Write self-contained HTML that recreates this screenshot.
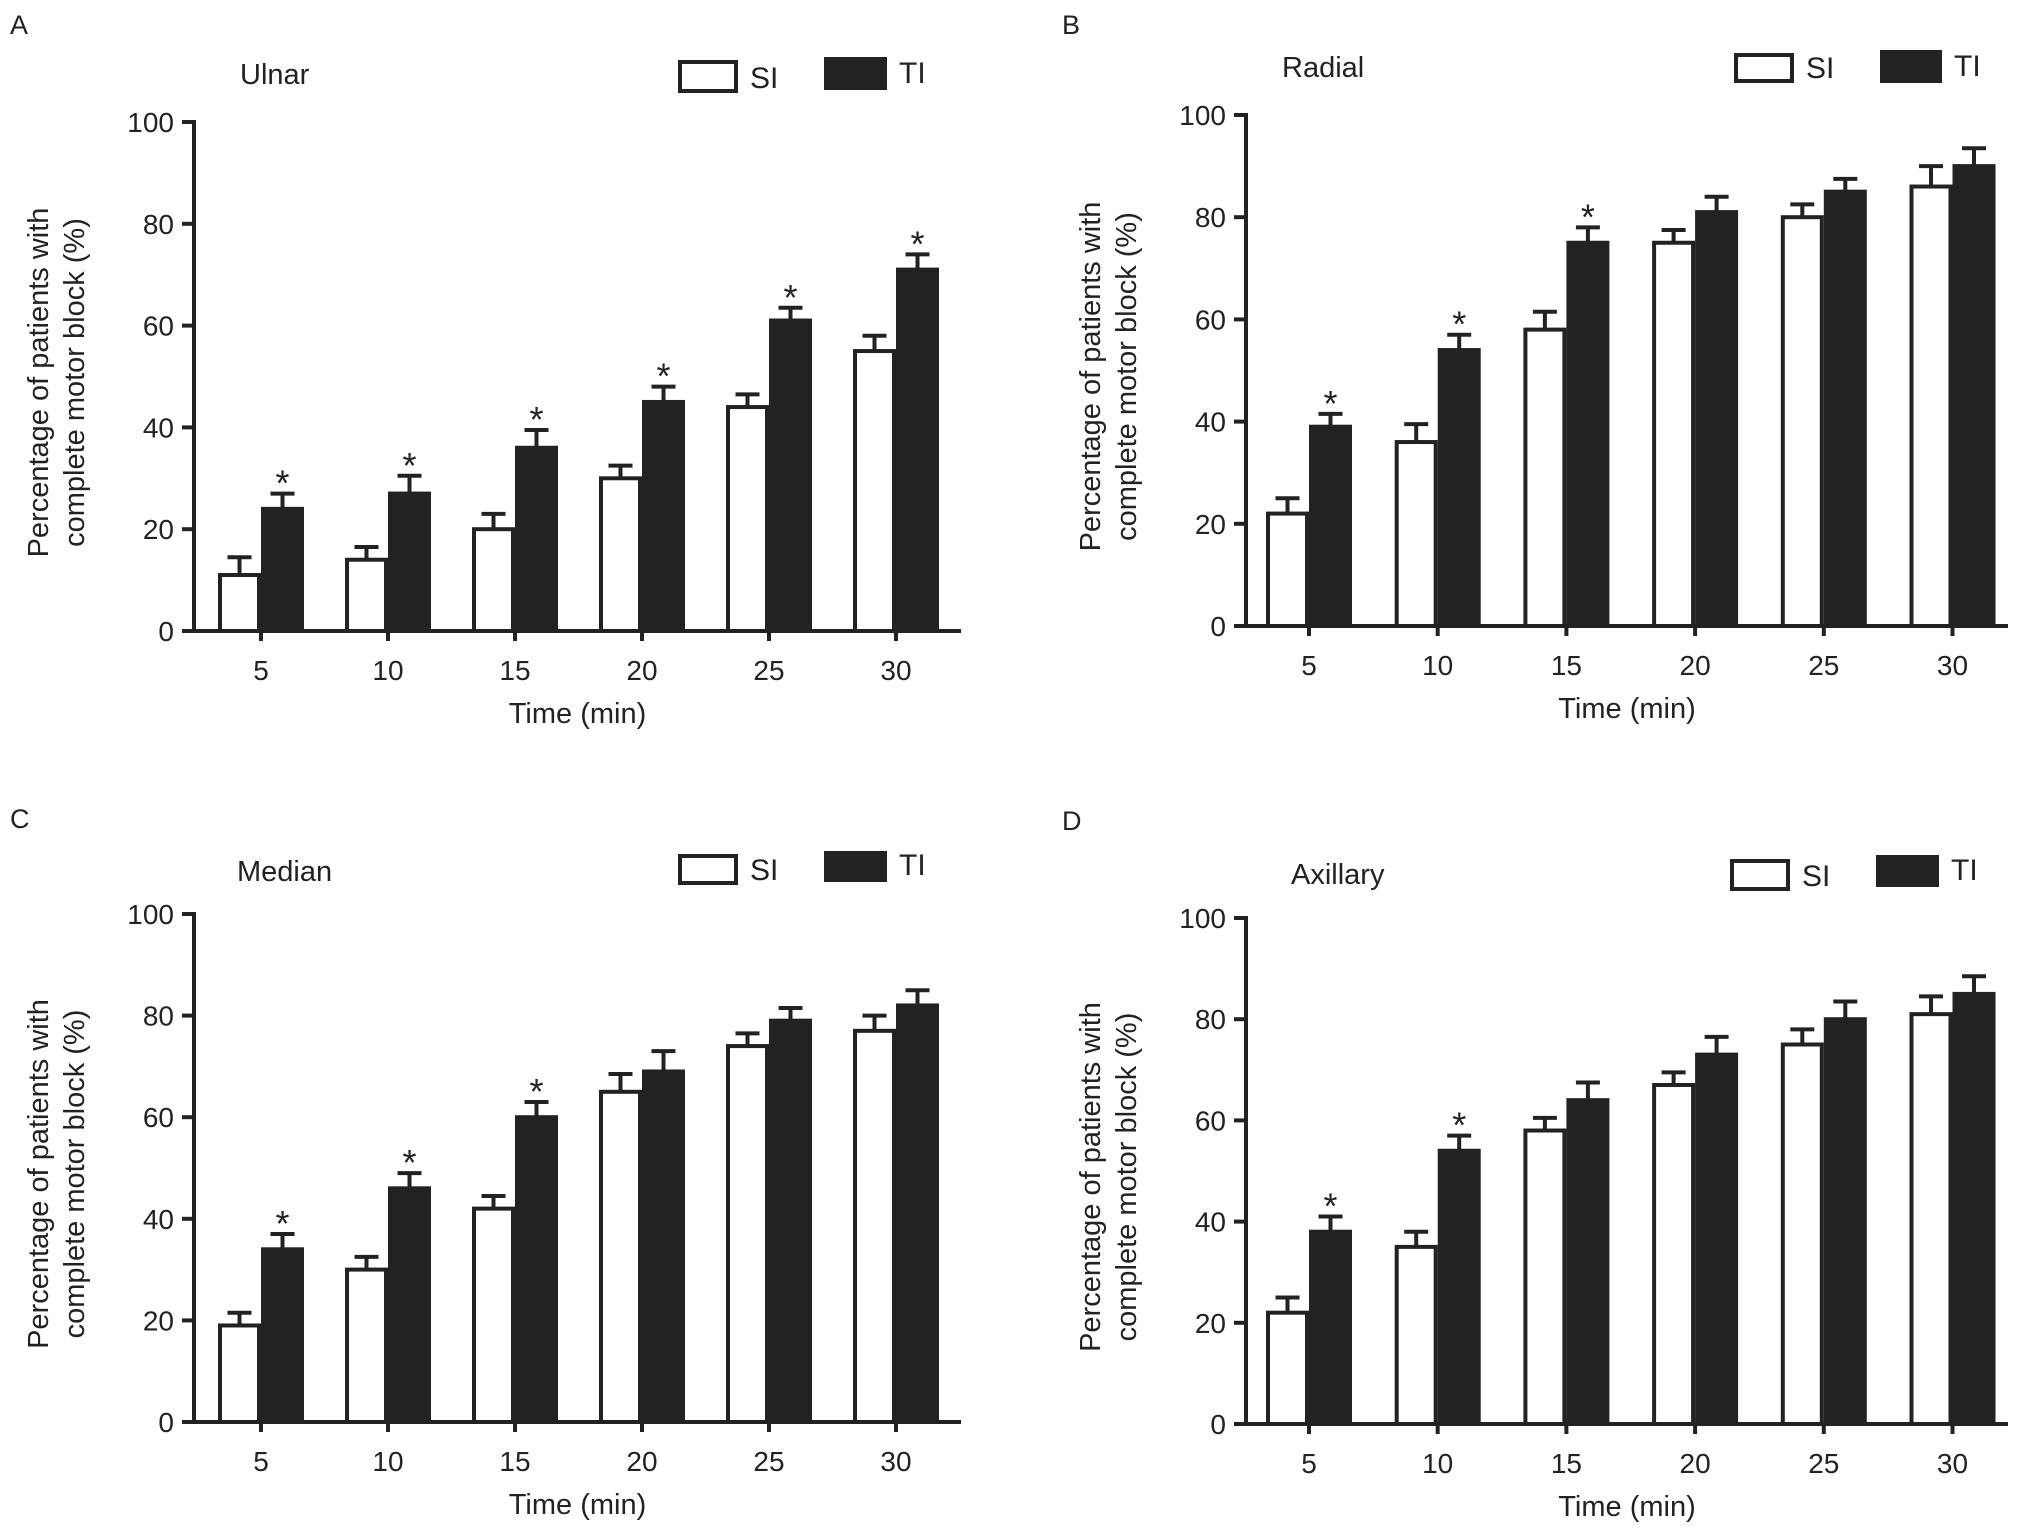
<!DOCTYPE html>
<html><head><meta charset="utf-8"><style>
html,body{margin:0;padding:0;background:#fff}
svg{display:block;font-family:"Liberation Sans",Arial,sans-serif}
</style></head><body>
<svg id="fig" width="2031" height="1538" viewBox="0 0 2031 1538" xmlns="http://www.w3.org/2000/svg"></svg>
<script>
const categories = ["5","10","15","20","25","30"];
const yTicks = [0,20,40,60,80,100];
const panelLetters = ["A","B","C","D"];
const panelTitles = ["Ulnar","Radial","Median","Axillary"];
const siA = [11,14,20,30,44,55];
const siErrA = [3.5,2.5,3,2.5,2.5,3];
const tiA = [24,27,36,45,61,71];
const tiErrA = [3,3.5,3.5,3,2.5,3];
const starsA = [1,1,1,1,1,1];
const siB = [22,36,58,75,80,86];
const siErrB = [3,3.5,3.5,2.5,2.5,4];
const tiB = [39,54,75,81,85,90];
const tiErrB = [2.5,3,3,3,2.5,3.5];
const starsB = [1,1,1,0,0,0];
const siC = [19,30,42,65,74,77];
const siErrC = [2.5,2.5,2.5,3.5,2.5,3];
const tiC = [34,46,60,69,79,82];
const tiErrC = [3,3,3,4,2.5,3];
const starsC = [1,1,1,0,0,0];
const siD = [22,35,58,67,75,81];
const siErrD = [3,3,2.5,2.5,3,3.5];
const tiD = [38,54,64,73,80,85];
const tiErrD = [3,3,3.5,3.5,3.5,3.5];
const starsD = [1,1,0,0,0,0];

const NS="http://www.w3.org/2000/svg";
const svg=document.getElementById('fig');
function mk(tag,attrs,parent,text){const e=document.createElementNS(NS,tag);for(const k in attrs)e.setAttribute(k,attrs[k]);if(text!==undefined)e.textContent=text;(parent||svg).appendChild(e);return e;}

const layouts=[
 {ax:194,y0:631,y100:122,end:961,c0:261,sp:127,ox:0,oy:0,legSI:[680,62,736,91],legTI:[826,59,885,88],title:[240,74]},
 {ax:1246,y0:626,y100:115,end:2008,c0:1309,sp:128.7,ox:1052,oy:0,legSI:[1736,55,1792,81],legTI:[1882,52,1940,81],title:[1282,67]},
 {ax:194,y0:1422,y100:914,end:961,c0:261,sp:127,ox:0,oy:794,legSI:[680,856,736,883],legTI:[826,853,885,880],title:[237,871]},
 {ax:1246,y0:1424,y100:918,end:2008,c0:1309,sp:128.7,ox:1052,oy:796,legSI:[1732,861,1788,889],legTI:[1878,857,1937,885],title:[1291,874]}
];
const datasets=[[siA,siErrA,tiA,tiErrA,starsA],[siB,siErrB,tiB,tiErrB,starsB],[siC,siErrC,tiC,tiErrC,starsC],[siD,siErrD,tiD,tiErrD,starsD]];

layouts.forEach((L,p)=>{
 const g=mk('g',{});
 
 
 const [si,siE,ti,tiE,st]=datasets[p];
 const yS=v=>L.y0-(L.y0-L.y100)*v/100;
 const xS=i=>L.c0+i*L.sp;
 const bw=43;
 const lt=mk('text',{x:10+L.ox,y:34+L.oy,'font-size':27,fill:'#222'},g,panelLetters[p]);
 
 
 const tt=mk('text',{x:L.title[0],y:L.title[1]+10,'font-size':29,fill:'#222'},g,panelTitles[p]);
 
 
 const [a,b,c,d]=L.legSI;
 const ls=mk('rect',{x:a,y:b,width:c-a,height:d-b,fill:'#fff',stroke:'#222','stroke-width':4},g);
 
 
 const lst=mk('text',{x:c+14,y:d-3,'font-size':30,fill:'#222'},g,'SI');
 
 
 const [e,f,h,k]=L.legTI;
 const lti=mk('rect',{x:e,y:f,width:h-e,height:k-f,fill:'#222',stroke:'#222','stroke-width':4},g);
 
 
 const ltt=mk('text',{x:h+14,y:k-5,'font-size':30,fill:'#222'},g,'TI');
 
 
 categories.forEach((cat,i)=>{
  const cx=xS(i);
  [[si,siE,'#fff','si'],[ti,tiE,'#222','ti']].forEach(([vals,errs,fill,nm],j)=>{
   const x=j===0?cx-bw:cx;
   const top=yS(vals[i]);
   const et=yS(vals[i]+errs[i]);
   const ec=x+bw/2;
   const eb=mk('path',{d:`M${ec},${top} V${et} M${ec-12},${et} H${ec+12}`,stroke:'#222','stroke-width':4,fill:'none'},g);
   
   
   const r=mk('rect',{x:x+2,y:top,width:bw-4,height:L.y0-top,fill:fill,stroke:'#222','stroke-width':4},g);
   
   
   if(j===1&&st[i]){
    const s=mk('text',{x:ec,y:et+2,'font-size':36,'text-anchor':'middle',fill:'#222'},g,'*');
    
    
   }
  });
  const tk=mk('line',{x1:cx,x2:cx,y1:L.y0,y2:L.y0+10,stroke:'#222','stroke-width':4},g);
  
  
  const tl=mk('text',{x:cx,y:L.y0+49,'font-size':28,'text-anchor':'middle',fill:'#222'},g,cat);
  
  
 });
 const axY=mk('line',{x1:L.ax,x2:L.ax,y1:L.y100-2,y2:L.y0+2,stroke:'#222','stroke-width':4},g);
 
 
 const axX=mk('line',{x1:L.ax-12,x2:L.end,y1:L.y0,y2:L.y0,stroke:'#222','stroke-width':4},g);
 
 
 yTicks.forEach(v=>{
  const y=yS(v);
  const t=mk('line',{x1:L.ax-12,x2:L.ax,y1:y,y2:y,stroke:'#222','stroke-width':4},g);
  
  
  const l=mk('text',{x:L.ax-20,y:y+10,'font-size':28,'text-anchor':'end',fill:'#222'},g,String(v));
  
  
 });
 const xt=mk('text',{x:(L.ax+L.end)/2,y:L.y0+92,'font-size':29,'text-anchor':'middle',fill:'#222'},g,'Time (min)');
 
 
 const cy=(L.y0+L.y100)/2+6;
 const yt=mk('text',{transform:`translate(${L.ax-146},${cy}) rotate(-90)`,'font-size':29,'text-anchor':'middle',fill:'#222'},g);
 
 
 mk('tspan',{x:0,y:0},yt,'Percentage of patients with');
 mk('tspan',{x:0,y:36},yt,'complete motor block (%)');
});
</script>
</body></html>
